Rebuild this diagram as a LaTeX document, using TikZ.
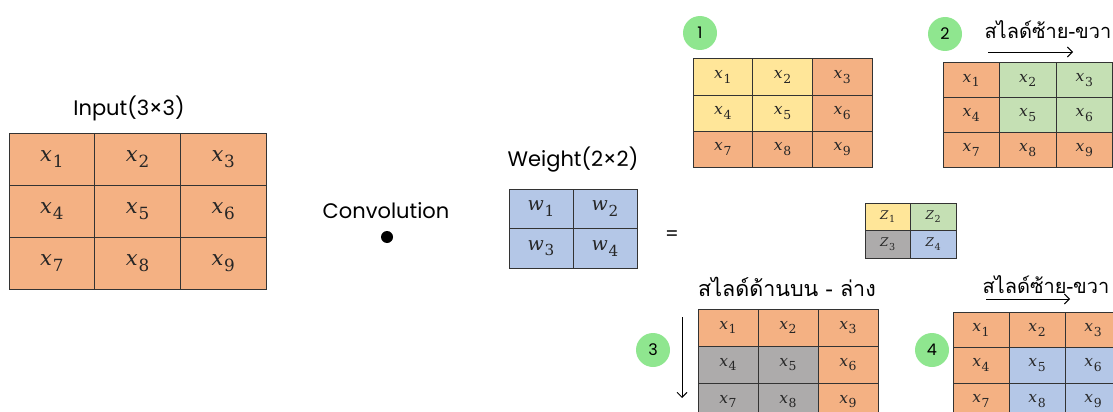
\documentclass[tikz,border=0pt]{standalone}
\usepackage{fontspec}
\usetikzlibrary{arrows.meta}
\newfontfamily\thaifont[Script=Thai]{Loma}
\newfontfamily\labelfont{Poppins}
\newfontfamily\cellfont{DejaVu Serif}
\definecolor{cellora}{HTML}{F4B183}
\definecolor{cellyel}{HTML}{FFE699}
\definecolor{cellgrn}{HTML}{C5E0B4}
\definecolor{cellblu}{HTML}{B4C7E7}
\definecolor{cellgry}{HTML}{ADABAB}
\definecolor{numgreen}{HTML}{8FE68F}

\tikzset{
  cell/.style={draw=black!80, line width=1pt, inner sep=0pt, text=black!85},
  stepnum/.style={circle, fill=numgreen, minimum size=34pt, inner sep=0pt,
    font=\labelfont\fontsize{16}{16}\selectfont},
  slide/.style={-{Straight Barb[length=5pt,width=10pt]}, line width=0.9pt}
}

% #1 name, #2 x0, #3 y0, #4 columns, #5 cell width, #6 cell height,
% #7 letter, #8 fill colours, #9 font size
\newcommand{\convgrid}[9]{%
  \foreach \c [count=\k] in {#8} {
    \pgfmathtruncatemacro{\col}{mod(\k-1,#4)}
    \pgfmathtruncatemacro{\row}{int((\k-1)/#4)}
    \node[cell, fill=\c, minimum width=#5pt, minimum height=#6pt,
      font=\cellfont\fontsize{#9}{#9}\selectfont] (#1-\k)
      at ({#2+(\col+0.5)*#5},{#3+(\row+0.5)*#6})
      {\textit{#7}\kern0.04em\raisebox{-0.3em}{\scalebox{0.8}{\k}}};
  }}

\begin{document}
\begin{tikzpicture}[x=1pt, y=-1pt]
\useasboundingbox (0,0) rectangle (1113,412);
\clip (0,0) rectangle (1113,412);

% input and kernel
\node[font=\labelfont\fontsize{21}{21}\selectfont] (inlabel) at (129,108) {Input(3×3)};
\convgrid{in}{9}{133}{3}{85.7}{52}{x}{cellora,cellora,cellora,cellora,cellora,cellora,cellora,cellora,cellora}{21}

\node[font=\labelfont\fontsize{21}{21}\selectfont] (convlabel) at (386,211) {Convolution};
\node[circle, fill=black, minimum size=12pt, inner sep=0pt] (dot) at (387,237) {};

\node[font=\labelfont\fontsize{21}{21}\selectfont] (wlabel) at (573,160) {Weight(2×2)};
\convgrid{w}{509}{189}{2}{64}{39.5}{w}{cellblu,cellblu,cellblu,cellblu}{19}

\node[font=\labelfont\fontsize{19}{19}\selectfont] (eq) at (672,236) {=};
\convgrid{z}{865}{203}{2}{45.5}{27.5}{Z}{cellyel,cellgrn,cellgry,cellblu}{12}

% step 1
\node[stepnum] (n1) at (700,33) {1};
\convgrid{sa}{693}{59}{3}{59.7}{36}{x}{cellyel,cellyel,cellora,cellyel,cellyel,cellora,cellora,cellora,cellora}{15.5}

% step 2
\node[stepnum] (n2) at (945,34) {2};
\node[anchor=west, font=\thaifont\fontsize{20}{20}\selectfont] (lr1) at (981,30) {สไลด์ซ้าย-ขวา};
\coordinate (lr1a) at (988,52);
\coordinate (lr1b) at (1073,52);
\draw[slide] (lr1a) -- (lr1b);
\convgrid{sb}{943}{63}{3}{56.5}{34.7}{x}{cellora,cellgrn,cellgrn,cellora,cellgrn,cellgrn,cellora,cellora,cellora}{15.5}

% step 3
\node[font=\thaifont\fontsize{21.5}{21.5}\selectfont] (ud) at (787,287) {สไลด์ด้านบน - ล่าง};
\node[stepnum] (n3) at (653,350) {3};
\coordinate (uda) at (682,317);
\coordinate (udb) at (682,398);
\draw[slide] (uda) -- (udb);
\convgrid{sc}{698}{309}{3}{60}{37}{x}{cellora,cellora,cellora,cellgry,cellgry,cellora,cellgry,cellgry,cellora}{15.5}

% step 4
\node[anchor=west, font=\thaifont\fontsize{20}{20}\selectfont] (lr2) at (979,285) {สไลด์ซ้าย-ขวา};
\node[stepnum] (n4) at (932,350) {4};
\coordinate (lr2a) at (986,299);
\coordinate (lr2b) at (1070,299);
\draw[slide] (lr2a) -- (lr2b);
\convgrid{sd}{953}{312}{3}{56}{35.5}{x}{cellora,cellora,cellora,cellora,cellblu,cellblu,cellora,cellblu,cellblu}{15.5}
\end{tikzpicture}
\end{document}
